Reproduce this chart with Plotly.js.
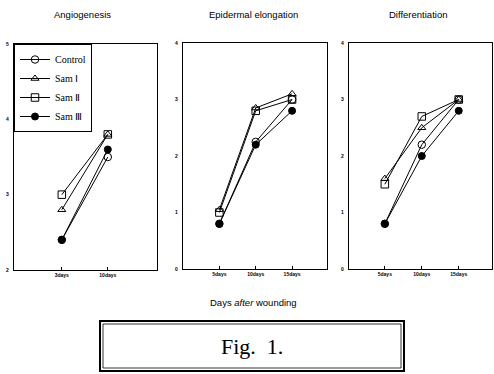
<!DOCTYPE html>
<html>
<head>
<meta charset="utf-8">
<script src="https://cdn.plot.ly/plotly-3.0.1.min.js"></script>
<style>html,body{margin:0;padding:0;background:#fff;}#chart{width:494px;height:374px;}</style>
</head>
<body>
<div id="chart"></div>
<script>
// ---- data ----
const seriesNames = ["Control", "Sam Ⅰ", "Sam Ⅱ", "Sam Ⅲ"];
const panelTitles = ["Angiogenesis", "Epidermal elongation", "Differentiation"];

const angioDays = ["3days", "10days"];
const angioControl = [2.4, 3.5];
const angioSam1 = [2.8, 3.8];
const angioSam2 = [3.0, 3.8];
const angioSam3 = [2.4, 3.6];

const epiDays = ["5days", "10days", "15days"];
const epiControl = [0.8, 2.25, 3.0];
const epiSam1 = [1.05, 2.85, 3.1];
const epiSam2 = [1.0, 2.8, 3.0];
const epiSam3 = [0.8, 2.2, 2.8];

const diffDays = ["5days", "10days", "15days"];
const diffControl = [0.8, 2.2, 3.0];
const diffSam1 = [1.6, 2.5, 3.0];
const diffSam2 = [1.5, 2.7, 3.0];
const diffSam3 = [0.8, 2.0, 2.8];

const angioTicks = [2, 3, 4, 5];
const otherTicks = [0, 1, 2, 3, 4];

// ---- styles ----
const markerStyles = [
  {symbol: "circle-open", size: 7.5, color: "#000", line: {width: 1, color: "#000"}},
  {symbol: "triangle-up-open", size: 7, color: "#000", line: {width: 1, color: "#000"}},
  {symbol: "square-open", size: 7.5, color: "#000", line: {width: 1, color: "#000"}},
  {symbol: "circle", size: 7, color: "#000", line: {width: 1, color: "#000"}}
];

const panels = [
  {x: angioDays, ys: [angioControl, angioSam1, angioSam2, angioSam3], xa: "x", ya: "y"},
  {x: epiDays, ys: [epiControl, epiSam1, epiSam2, epiSam3], xa: "x2", ya: "y2"},
  {x: diffDays, ys: [diffControl, diffSam1, diffSam2, diffSam3], xa: "x3", ya: "y3"}
];

const traces = [];
panels.forEach((p, pi) => {
  p.ys.forEach((yv, si) => {
    traces.push({
      type: "scatter", mode: "lines+markers",
      x: p.x, y: yv, xaxis: p.xa, yaxis: p.ya,
      name: seriesNames[si], legendgroup: seriesNames[si],
      showlegend: pi === 0,
      line: {color: "#000", width: 1},
      marker: markerStyles[si],
      cliponaxis: false
    });
  });
});

const W = 494, H = 374;
const fx = px => px / W;
const fy = py => 1 - py / H;

const tickFont = {family: "Liberation Sans", size: 5, color: "#000", weight: "bold"};
function xax(domain, range) {
  return {
    domain: domain, type: "category", range: range,
    showline: true, mirror: true, linecolor: "#000", linewidth: 1.2,
    showgrid: false, zeroline: false,
    ticks: "inside", ticklen: 3, tickcolor: "#000", tickwidth: 1,
    tickfont: tickFont, fixedrange: true
  };
}
function yax(domain, range, tv) {
  return {
    domain: domain, range: range, tickvals: tv,
    showline: true, mirror: true, linecolor: "#000", linewidth: 1.2,
    showgrid: false, zeroline: false,
    ticks: "", tickfont: tickFont, ticklabelstandoff: 3, fixedrange: true
  };
}

function ann(text, px, py, font) {
  return {text: text, x: fx(px), y: fy(py), xref: "paper", yref: "paper",
    xanchor: "center", yanchor: "middle", showarrow: false, font: font};
}

const layout = {
  width: W, height: H,
  margin: {l: 0, r: 0, t: 0, b: 0},
  paper_bgcolor: "#fff", plot_bgcolor: "#fff",
  font: {family: "Liberation Sans", color: "#000"},
  xaxis: xax([fx(14), fx(157)], [-1.04, 2.07]),
  yaxis: Object.assign(yax([fy(270), fy(44)], [2, 5], angioTicks), {anchor: "x"}),
  xaxis2: Object.assign(xax([fx(183), fx(327)], [-1.0, 2.96]), {anchor: "y2"}),
  yaxis2: Object.assign(yax([fy(269), fy(43)], [0, 4], otherTicks), {anchor: "x2"}),
  xaxis3: Object.assign(xax([fx(349), fx(492)], [-0.97, 2.9]), {anchor: "y3"}),
  yaxis3: Object.assign(yax([fy(269), fy(43)], [0, 4], otherTicks), {anchor: "x3"}),
  showlegend: true,
  legend: {
    x: fx(14), y: fy(44), xanchor: "left", yanchor: "top",
    bgcolor: "#fff", bordercolor: "#000", borderwidth: 1,
    font: {family: "Liberation Serif", size: 10, color: "#000"},
    itemwidth: 30, tracegroupgap: 0
  },
  annotations: [
    ann(panelTitles[0], 82, 14, {size: 9.5}),
    ann(panelTitles[1], 254, 14, {size: 9.5}),
    ann(panelTitles[2], 418, 14, {size: 9.5}),
    ann("Days <i>after</i> wounding", 254, 302, {size: 9.5}),
    ann("Fig.  1.", 252, 346, {family: "Liberation Serif", size: 22})
  ],
  shapes: [
    {type: "rect", xref: "paper", yref: "paper", x0: fx(100), x1: fx(404), y0: fy(371), y1: fy(321), line: {color: "#000", width: 2}},
    {type: "rect", xref: "paper", yref: "paper", x0: fx(103), x1: fx(401), y0: fy(368), y1: fy(324), line: {color: "#000", width: 0.8}}
  ]
};

Plotly.newPlot("chart", traces, layout, {staticPlot: true, displayModeBar: false});
</script>
</body>
</html>
